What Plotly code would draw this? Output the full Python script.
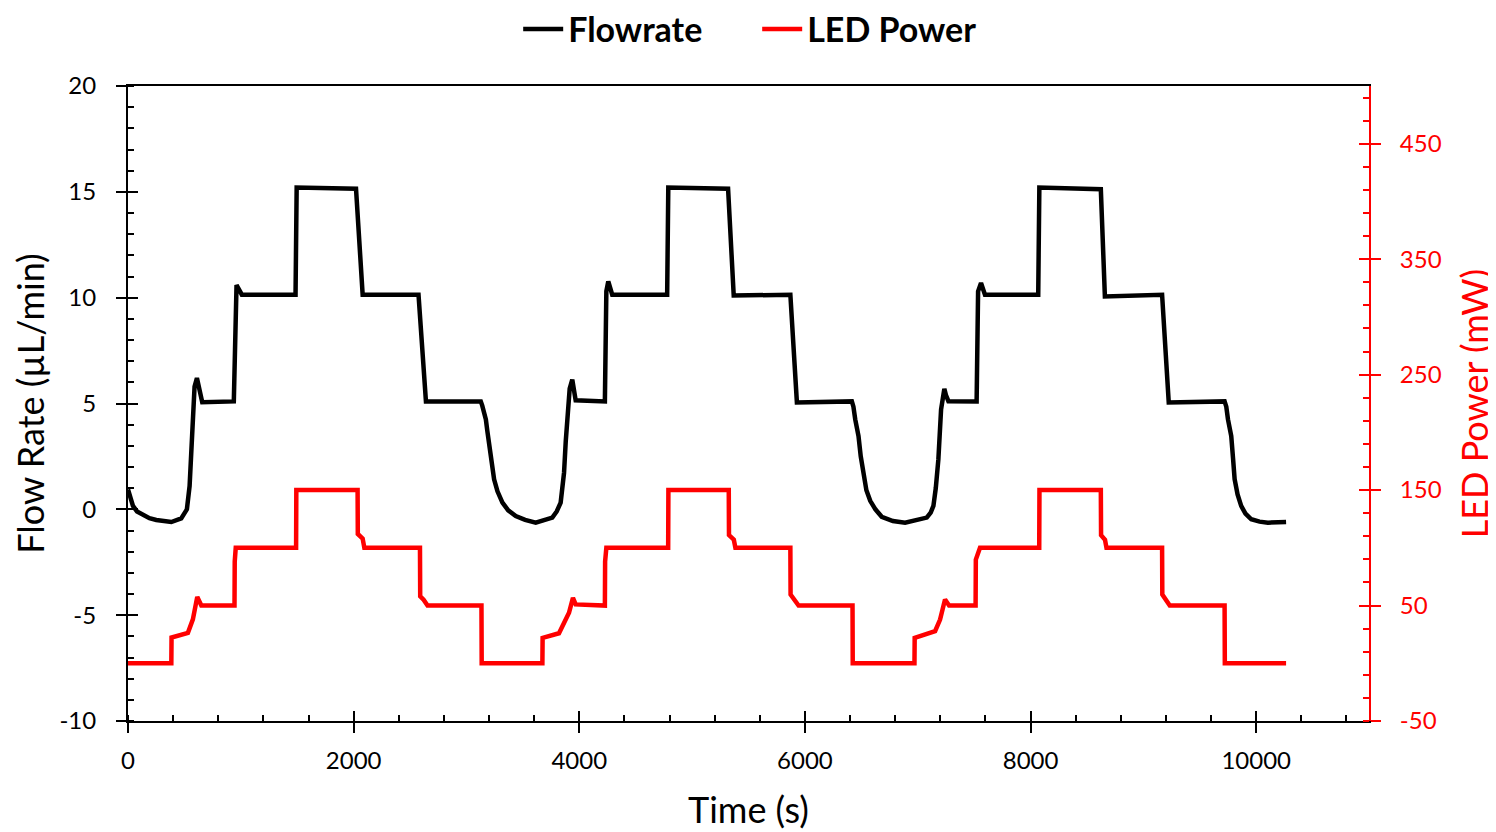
import plotly.graph_objects as go

# ---------------- data ----------------
flow_time = [0, 20, 44, 80, 133, 190, 251, 320, 384, 472, 522, 546, 570, 590, 611, 635, 658,
             938, 950, 962, 1009, 1485, 1495, 2021, 2080, 2575, 2641,
             3127, 3140, 3172, 3185, 3201, 3220, 3245, 3275, 3319, 3370, 3437, 3520, 3614,
             3761, 3800, 3835, 3850, 3865, 3880, 3894, 3915, 3938, 3950, 3968,
             4227, 4240, 4257, 4292, 4779, 4789, 5319, 5369, 5871, 5929,
             6416, 6430, 6446, 6475, 6495, 6519, 6545, 6579, 6625, 6681, 6780, 6888,
             7080, 7115, 7139, 7160, 7183, 7207, 7222, 7236, 7250, 7272,
             7522, 7535, 7561, 7596, 8068, 8078, 8623, 8659, 9166, 9225,
             9720, 9735, 9750, 9779, 9795, 9809, 9835, 9867, 9905, 9956, 10030, 10104, 10265]
flow_rate = [0.94, 0.5, 0.16, -0.1, -0.28, -0.42, -0.5, -0.57, -0.6, -0.43, 0.0, 1.1, 3.93, 5.8, 6.2, 5.58, 5.06,
             5.1, 9.8, 10.6, 10.14, 10.14, 15.2, 15.15, 10.14, 10.14, 5.1,
             5.1, 4.9, 4.25, 3.7, 2.98, 2.2, 1.42, 0.85, 0.32, -0.05, -0.32, -0.5, -0.63,
             -0.39, -0.1, 0.32, 0.9, 1.73, 3.2, 4.56, 5.7, 6.13, 5.8, 5.15,
             5.1, 10.3, 10.77, 10.14, 10.14, 15.2, 15.15, 10.1, 10.14, 5.05,
             5.1, 4.85, 4.25, 3.46, 2.5, 1.57, 0.9, 0.4, 0.0, -0.35, -0.55, -0.63,
             -0.39, -0.15, 0.16, 1.0, 2.36, 4.72, 5.4, 5.69, 5.4, 5.11,
             5.1, 10.3, 10.69, 10.14, 10.14, 15.2, 15.12, 10.06, 10.14, 5.05,
             5.1, 4.85, 4.25, 3.46, 2.4, 1.42, 0.7, 0.16, -0.2, -0.47, -0.58, -0.63, -0.6]

led_time = [0, 384, 386, 531, 575, 600, 614, 650, 944, 946, 955, 1490, 1492,
            2035, 2037, 2080, 2095, 2588, 2590, 2620, 2655, 3133, 3135,
            3673, 3675, 3820, 3909, 3944, 3968, 4227, 4229, 4240, 4788, 4790,
            5325, 5327, 5370, 5384, 5871, 5873, 5910, 5944, 6422, 6424,
            6971, 6973, 7154, 7198, 7242, 7278, 7513, 7515, 7552, 8077, 8079,
            8623, 8625, 8660, 8673, 9166, 9168, 9200, 9234, 9720, 9722, 10265]
led_power = [0, 0, 22.3, 26.4, 38, 52, 57.5, 50, 50, 88, 100, 100, 150,
             150, 112, 108, 100, 100, 58, 55, 50, 50, 0,
             0, 22, 26, 43.7, 56.6, 51, 50, 88, 100, 100, 150,
             150, 111, 107, 100, 100, 59.5, 55, 50, 50, 0,
             0, 22, 27.8, 37.9, 55.2, 50, 50, 89.8, 100, 100, 150,
             150, 111, 107, 100, 100, 59.5, 55, 50, 50, 0, 0]

x_tickvals = [0, 2000, 4000, 6000, 8000, 10000]
x_ticktext = ["0", "2000", "4000", "6000", "8000", "10000"]
y_tickvals = [-10, -5, 0, 5, 10, 15, 20]
y_ticktext = ["-10", "-5", "0", "5", "10", "15", "20"]
y2_tickvals = [-50, 50, 150, 250, 350, 450]
y2_ticktext = ["-50", "50", "150", "250", "350", "450"]

FONT = "Lato"
RED = "#ff0000"

fig = go.Figure()
fig.add_trace(go.Scatter(x=flow_time, y=flow_rate, mode="lines", name="Flowrate",
                         line=dict(color="black", width=4.5), xaxis="x", yaxis="y"))
fig.add_trace(go.Scatter(x=led_time, y=led_power, mode="lines", name="LED Power",
                         line=dict(color=RED, width=4.5), xaxis="x", yaxis="y2"))
# helper traces (no visible points) so that the overlay tick axes are drawn
fig.add_trace(go.Scatter(x=[None], y=[None], xaxis="x3", yaxis="y", showlegend=False, hoverinfo="skip"))
fig.add_trace(go.Scatter(x=[None], y=[None], xaxis="x", yaxis="y3", showlegend=False, hoverinfo="skip"))
fig.add_trace(go.Scatter(x=[None], y=[None], xaxis="x", yaxis="y4", showlegend=False, hoverinfo="skip"))

tickfont = dict(family=FONT, size=24, color="black")
titlefont = dict(family=FONT, size=36, color="black")

fig.update_layout(
    width=1488, height=824,
    margin=dict(l=120, r=127, t=78, b=111, autoexpand=False),
    paper_bgcolor="white", plot_bgcolor="white",
    showlegend=True,
    legend=dict(orientation="h", x=0.507, xanchor="center",
                yref="paper", y=1.135, yanchor="top", maxheight=120,
                font=dict(family=FONT, size=34, color="black", weight="bold"),
                itemwidth=40, entrywidth=184, entrywidthmode="pixels",
                tracegroupgap=0, bgcolor="rgba(0,0,0,0)"),
    xaxis=dict(range=[0, 11000], tickvals=x_tickvals, ticktext=x_ticktext,
               ticks="outside", ticklen=10, tickwidth=2, tickcolor="black",
               showline=True, linewidth=2, linecolor="black", mirror=True,
               showgrid=False, zeroline=False, tickfont=tickfont, ticklabelstandoff=7,
               minor=dict(ticks="inside", dtick=400, tick0=0, ticklen=6, tickwidth=2,
                          tickcolor="black", showgrid=False),
               title=dict(text="Time (s)", font=titlefont, standoff=25)),
    xaxis3=dict(range=[0, 11000], overlaying="x", anchor="y", side="bottom",
                tickvals=x_tickvals, ticks="inside", ticklen=10, tickwidth=2, tickcolor="black",
                showticklabels=False, showline=False, showgrid=False, zeroline=False),
    yaxis=dict(range=[-10, 20], tickvals=y_tickvals, ticktext=y_ticktext,
               ticks="outside", ticklen=10, tickwidth=2, tickcolor="black",
               showline=True, linewidth=2, linecolor="black",
               showgrid=False, zeroline=False, tickfont=tickfont, ticklabelstandoff=15,
               minor=dict(ticks="inside", dtick=1, tick0=0, ticklen=6, tickwidth=2,
                          tickcolor="black", showgrid=False),
               title=dict(text="Flow Rate (µL/min)", font=titlefont, standoff=10)),
    yaxis3=dict(range=[-10, 20], overlaying="y", anchor="x", side="left",
                tickvals=y_tickvals, ticks="inside", ticklen=10, tickwidth=2, tickcolor="black",
                showticklabels=False, showline=False, showgrid=False, zeroline=False),
    yaxis2=dict(range=[-50, 500], overlaying="y", anchor="x", side="right",
                tickvals=y2_tickvals, ticktext=y2_ticktext,
                ticks="outside", ticklen=10, tickwidth=2, tickcolor=RED,
                showline=True, linewidth=2, linecolor=RED,
                showgrid=False, zeroline=False,
                tickfont=dict(family=FONT, size=24, color=RED), ticklabelstandoff=14,
                minor=dict(ticks="inside", dtick=20, tick0=-50, ticklen=6, tickwidth=2,
                           tickcolor=RED, showgrid=False),
                title=dict(text="LED Power (mW)", font=dict(family=FONT, size=36, color=RED),
                           standoff=24)),
    yaxis4=dict(range=[-50, 500], overlaying="y", anchor="x", side="right",
                tickvals=y2_tickvals, ticks="inside", ticklen=10, tickwidth=2, tickcolor=RED,
                showticklabels=False, showline=False, showgrid=False, zeroline=False),
)

fig.write_html("out.html")
